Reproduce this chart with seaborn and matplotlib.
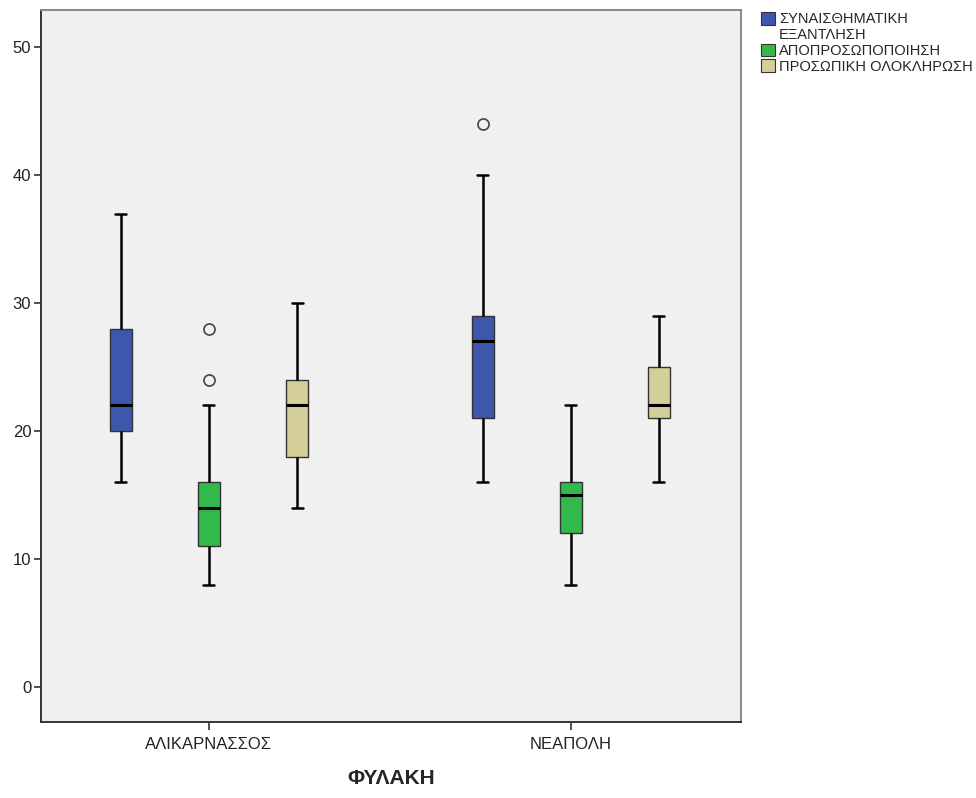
import pandas as pd
import numpy as np
import matplotlib
matplotlib.use("Agg")
import matplotlib.pyplot as plt
from matplotlib.patches import Patch
import seaborn as sns

# ------------------------------
# DATA (values read off the boxes)
# ------------------------------

prisons = ["ΑΛΙΚΑΡΝΑΣΣΟΣ", "ΝΕΑΠΟΛΗ"]
scales = ["ΣΥΝΑΙΣΘΗΜΑΤΙΚΗ ΕΞΑΝΤΛΗΣΗ", "ΑΠΟΠΡΟΣΩΠΟΠΟΙΗΣΗ", "ΠΡΟΣΩΠΙΚΗ ΟΛΟΚΛΗΡΩΣΗ"]

alik_exhaustion = [16, 20, 22, 28, 37]
alik_depers = [8, 9, 10, 11, 12, 13, 14, 15, 15, 16, 22, 24, 28]
alik_accompl = [14, 18, 22, 24, 30]

neap_exhaustion = [16, 18, 21, 24, 27, 28, 29, 40, 44]
neap_depers = [8, 12, 15, 16, 22]
neap_accompl = [16, 21, 22, 25, 29]

colors = ["#3d57ac", "#31b94b", "#d4cf98"]

# ------------------------------
# LONG TABLE
# ------------------------------

groups = [
    (prisons[0], scales[0], alik_exhaustion),
    (prisons[0], scales[1], alik_depers),
    (prisons[0], scales[2], alik_accompl),
    (prisons[1], scales[0], neap_exhaustion),
    (prisons[1], scales[1], neap_depers),
    (prisons[1], scales[2], neap_accompl),
]

rows = []
for prison, scale, vals in groups:
    for v in vals:
        rows.append([prison, scale, v])

df = pd.DataFrame(rows, columns=["prison", "scale", "value"])

# ------------------------------
# PLOT
# ------------------------------

sns.set_style("white")
plt.rcParams["font.family"] = ["Liberation Sans", "DejaVu Sans"]

fig = plt.figure(figsize=(9.76, 7.98), dpi=100)
ax = fig.add_axes([41/976, 1 - 722/798, 700/976, 712/798])
ax.set_facecolor("#f0f0f0")

sns.boxplot(
    data=df,
    x="prison",
    y="value",
    hue="scale",
    order=prisons,
    hue_order=scales,
    palette=colors,
    width=0.73,
    gap=0.75,
    saturation=1,
    linecolor="#333333",
    linewidth=1,
    whis=1.5,
    medianprops=dict(color="black", linewidth=2.2),
    whiskerprops=dict(color="black", linewidth=1.8),
    capprops=dict(color="black", linewidth=1.8),
    flierprops=dict(marker="o", markersize=8, markerfacecolor="none",
                    markeredgecolor="#444444", markeredgewidth=1.2),
    legend=False,
    ax=ax
)

ax.set_xlim(-0.464, 1.47)
ax.set_ylim(-2.73, 52.9)
ax.set_yticks([0, 10, 20, 30, 40, 50])
ax.set_ylabel("")
ax.set_xlabel("ΦΥΛΑΚΗ", fontsize=15, fontweight="bold", labelpad=12)

ax.tick_params(axis="y", labelsize=12, length=5, width=1.2, color="#333333",
               left=True, pad=2, labelcolor="#222222")
ax.tick_params(axis="x", labelsize=12, length=6, width=1.2, color="#333333",
               bottom=True, pad=5, labelcolor="#222222")

for side in ["left", "bottom"]:
    ax.spines[side].set_color("#333333")
    ax.spines[side].set_linewidth(1.4)
for side in ["top", "right"]:
    ax.spines[side].set_color("#888888")
    ax.spines[side].set_linewidth(1.4)

# ------------------------------
# LEGEND
# ------------------------------

handles = [
    Patch(facecolor=colors[0], edgecolor="#333333", linewidth=0.8),
    Patch(facecolor="none", edgecolor="none"),
    Patch(facecolor=colors[1], edgecolor="#333333", linewidth=0.8),
    Patch(facecolor=colors[2], edgecolor="#333333", linewidth=0.8),
]
labels = ["ΣΥΝΑΙΣΘΗΜΑΤΙΚΗ", "ΕΞΑΝΤΛΗΣΗ", scales[1], scales[2]]

fig.legend(
    handles,
    labels,
    loc="upper left",
    bbox_to_anchor=(761/976, 1 - 12/798),
    frameon=False,
    fontsize=10.5,
    handlelength=0.95,
    handleheight=0.95,
    handletextpad=0.3,
    labelspacing=0.1,
    borderpad=0,
    borderaxespad=0
)

plt.savefig("out.png", dpi=100)
